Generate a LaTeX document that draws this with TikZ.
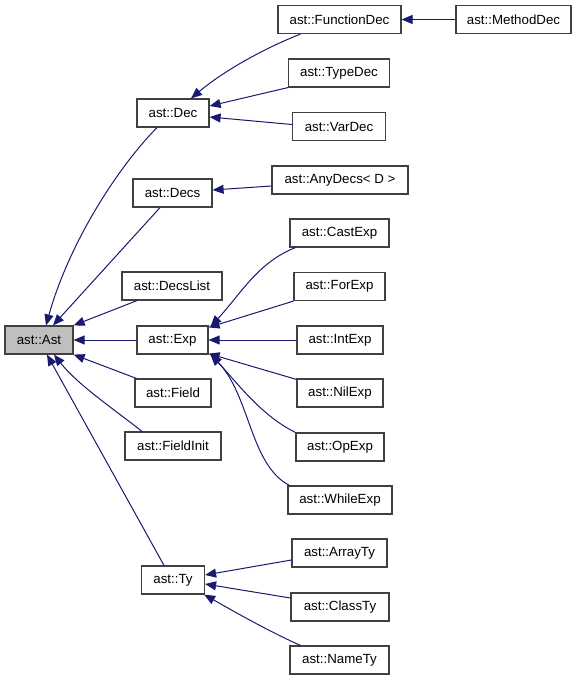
\documentclass[tikz,border=0pt]{standalone}
\usepackage{fontspec}
\setmainfont{Liberation Sans}
\usetikzlibrary{arrows.meta,calc}
\definecolor{edgecol}{RGB}{25,25,112}
\definecolor{boxline}{RGB}{64,64,64}
\definecolor{astfill}{RGB}{191,191,191}
\begin{document}
\begin{tikzpicture}[x=1pt,y=-1pt,
  cls/.style={draw=boxline,line width=1.2pt,fill=white,minimum height=28pt,inner sep=0pt,
    font=\fontsize{13.3}{16}\selectfont,text=black},
  edge/.style={draw=edgecol,line width=1pt,-{Triangle[length=11pt,width=9pt]},fill=none},
]
\useasboundingbox (0,0) rectangle (576,680);
% nodes
\node[cls,fill=astfill,minimum width=68pt] (Ast) at (39,340) {ast::Ast};
\node[cls,minimum width=72pt] (Dec) at (173,113) {ast::Dec};
\node[cls,minimum width=79pt] (Decs) at (172.5,193) {ast::Decs};
\node[cls,minimum width=100pt] (DecsList) at (172,286) {ast::DecsList};
\node[cls,minimum width=71pt] (Exp) at (172.5,340) {ast::Exp};
\node[cls,minimum width=76pt] (Field) at (173,393) {ast::Field};
\node[cls,minimum width=96pt] (FieldInit) at (173,446) {ast::FieldInit};
\node[cls,minimum width=63pt] (Ty) at (173,580) {ast::Ty};
\node[cls,minimum width=123pt] (FunctionDec) at (339.5,19.5) {ast::FunctionDec};
\node[cls,minimum width=115pt] (MethodDec) at (513.5,19.5) {ast::MethodDec};
\node[cls,minimum width=101pt] (TypeDec) at (339,73) {ast::TypeDec};
\node[cls,minimum width=93pt] (VarDec) at (339,126.5) {ast::VarDec};
\node[cls,minimum width=136pt] (AnyDecs) at (340,180) {ast::AnyDecs< D >};
\node[cls,minimum width=99pt] (CastExp) at (339.5,233) {ast::CastExp};
\node[cls,minimum width=91pt] (ForExp) at (339.5,286.5) {ast::ForExp};
\node[cls,minimum width=86pt] (IntExp) at (340,340) {ast::IntExp};
\node[cls,minimum width=86pt] (NilExp) at (340,393) {ast::NilExp};
\node[cls,minimum width=88pt] (OpExp) at (340,447) {ast::OpExp};
\node[cls,minimum width=104pt] (WhileExp) at (340,500) {ast::WhileExp};
\node[cls,minimum width=95pt] (ArrayTy) at (339.5,553) {ast::ArrayTy};
\node[cls,minimum width=98pt] (ClassTy) at (340,607) {ast::ClassTy};
\node[cls,minimum width=99pt] (NameTy) at (339.5,660) {ast::NameTy};
% edges to Ast
\draw[edge] ($(Dec.south)+(-16,0)$) .. controls (120,165) and (70,240) .. ($(Ast.north)+(7,0)$);
\draw[edge] ($(Decs.south)+(-12.5,0)$) -- ($(Ast.north)+(14,0)$);
\draw[edge] ($(DecsList.south)+(-35,0)$) -- (Ast.north east);
\draw[edge] (Exp.west) -- (Ast.east);
\draw[edge] ($(Field.north west)+(2,0)$) -- (Ast.south east);
\draw[edge] ($(FieldInit.north)+(-31,0)$) .. controls (115,410) and (78,385) .. ($(Ast.south)+(15,0)$);
\draw[edge] ($(Ty.north)+(-9,0)$) -- ($(Ast.south)+(8,0)$);
% edges to Dec
\draw[edge] ($(FunctionDec.south)+(-39,0)$) .. controls (265,48) and (225,70) .. ($(Dec.north)+(18,0)$);
\draw[edge] (TypeDec.south west) -- ($(Dec.east)+(0,-7)$);
\draw[edge] ($(VarDec.west)+(0,-2)$) -- ($(Dec.east)+(0,4)$);
\draw[edge] (MethodDec.west) -- (FunctionDec.east);
% Decs
\draw[edge] ($(AnyDecs.west)+(0,6)$) -- ($(Decs.east)+(0,-3)$);
% Exp
\draw[edge] ($(CastExp.south)+(-44,0)$) .. controls (258,262) and (240,295) .. ($(Exp.north east)+(2,1)$);
\draw[edge] (ForExp.south west) -- ($(Exp.north east)+(0,2)$);
\draw[edge] (IntExp.west) -- (Exp.east);
\draw[edge] ($(NilExp.north west)+(0,1)$) -- ($(Exp.south east)+(0,-1)$);
\draw[edge] (OpExp.north west) .. controls (260,415) and (235,380) .. ($(Exp.south east)+(2,0)$);
\draw[edge] ($(WhileExp.north west)+(2,0)$) .. controls (250,465) and (250,395) .. ($(Exp.south east)+(2,0)$);
% Ty
\draw[edge] ($(ArrayTy.west)+(0,7)$) -- ($(Ty.east)+(0,-5)$);
\draw[edge] ($(ClassTy.west)+(0,-9)$) -- ($(Ty.east)+(0,4)$);
\draw[edge] ($(NameTy.north)+(-39,0)$) .. controls (270,632) and (235,612) .. ($(Ty.south east)+(-1,0)$);
\end{tikzpicture}
\end{document}
